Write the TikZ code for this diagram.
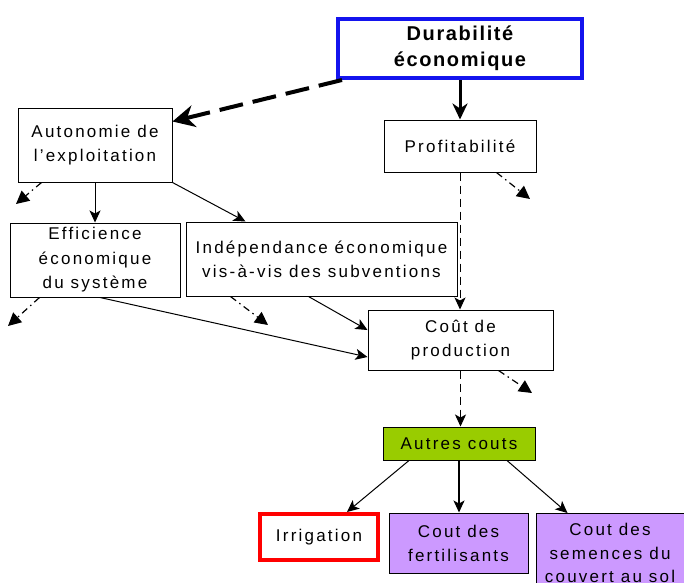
\documentclass[tikz,border=0pt]{standalone}
\usepackage{fontspec}
\setmainfont{Liberation Sans}[LetterSpace=13]
\usetikzlibrary{arrows.meta,calc}
\definecolor{dblue}{HTML}{1414EE}
\definecolor{agreen}{HTML}{99CC00}
\definecolor{apurple}{HTML}{CC99FF}
\definecolor{ared}{HTML}{FF0000}
\begin{document}
\begin{tikzpicture}[x=1pt,y=-1pt,
  box/.style={draw=black, line width=1pt, align=center, inner sep=0pt, fill=white,
    font=\fontsize{17}{24}\selectfont},
  thinarrow/.style={draw=black, line width=1pt, -{Stealth[length=12pt,width=11pt,inset=3pt]}},
  thinmid/.style={thinarrow, line width=1.4pt},
  dashedarrow/.style={thinarrow, dash pattern=on 8pt off 5pt},
  stub/.style={draw=black, line width=1.2pt, dash pattern=on 7pt off 4pt on 1.5pt off 4pt,
    -{Triangle[length=13pt,width=13pt]}},
  bigdash/.style={draw=black, line width=4pt, dash pattern=on 24pt off 10pt,
    -{Stealth[length=22pt,width=22pt,inset=7pt]}},
  bigarrow/.style={draw=black, line width=3pt, -{Stealth[length=16pt,width=15pt,inset=5pt]}}
]
\useasboundingbox (0,0) rectangle (684,582);
\clip (0,0) rectangle (684,582);

% nodes
\node[box, draw=dblue, line width=4pt, minimum width=244pt, minimum height=59pt,
  font=\bfseries\fontsize{20}{26}\selectfont] (dur) at (460,48.5) {\addfontfeature{LetterSpace=8}Durabilité\\\addfontfeature{LetterSpace=8}économique};
\node[box, minimum width=154pt, minimum height=74pt] (aut) at (95,145) {Autonomie de\\l'exploitation};
\node[box, minimum width=152pt, minimum height=52pt] (pro) at (460,146) {Profitabilité};
\node[box, minimum width=170pt, minimum height=74pt, font=\fontsize{17}{24.5}\selectfont] (eff) at (95,260) {Efficience\\économique\\du système};
\node[box, minimum width=271pt, minimum height=74pt] (ind) at (321.5,259) {Indépendance économique\\vis-à-vis des subventions};
\node[box, minimum width=185pt, minimum height=60pt] (cout) at (460.5,340) {Coût de\\production};
\node[box, fill=agreen, minimum width=152pt, minimum height=33pt] (autres) at (459,443.5) {Autres couts};
\node[box, draw=ared, line width=4pt, minimum width=118pt, minimum height=46pt] (irr) at (319,537) {Irrigation};
\node[box, fill=apurple, minimum width=139pt, minimum height=60pt] (fer) at (458.5,543) {Cout des\\fertilisants};
\node[box, fill=apurple, minimum width=148pt, minimum height=90pt, anchor=north] (sem) at (610,513) {};
\node[font=\fontsize{17}{23.5}\selectfont, align=center, anchor=north, inner sep=0pt] (semtxt) at (610,523) {Cout des\\semences du\\couvert au sol};

% free ends of the dash-dot stubs
\coordinate (s1) at (16,204);
\coordinate (s2) at (530,199);
\coordinate (s3) at (8,326);
\coordinate (s4) at (268,325);
\coordinate (s5) at (532,393);

% connectors
\draw[bigdash] ($(dur.south west)+(6,0)$) -- ($(aut.north east)+(0,14)$);
\draw[bigarrow] (dur.south) -- (pro.north);
\draw[thinarrow] (aut.south) -- (eff.north);
\draw[thinarrow] (aut.south east) -- ($(ind.north west)+(60,0)$);
\draw[dashedarrow] (pro.south) -- (pro.south |- cout.north);
\draw[thinarrow] ($(eff.south)+(5,0)$) -- ($(cout.west)+(0,17)$);
\draw[thinarrow] ($(ind.south)+(-13,0)$) -- ($(cout.west)+(0,-10)$);
\draw[dashedarrow] (cout.south) -- (cout.south |- autres.north);
\draw[thinarrow] ($(autres.south)+(-50,0)$) -- ($(irr.north)+(28,0)$);
\draw[thinmid] (autres.south) -- (autres.south |- fer.north);
\draw[thinarrow] ($(autres.south)+(48,0)$) -- ($(sem.north west)+(32,0)$);

% dash-dot stubs
\draw[stub] ($(aut.south west)+(24,0)$) -- (s1);
\draw[stub] ($(pro.south east)+(-40,0)$) -- (s2);
\draw[stub] ($(eff.south west)+(30,0)$) -- (s3);
\draw[stub] ($(ind.south west)+(45,0)$) -- (s4);
\draw[stub] ($(cout.south east)+(-55,0)$) -- (s5);
\end{tikzpicture}
\end{document}
